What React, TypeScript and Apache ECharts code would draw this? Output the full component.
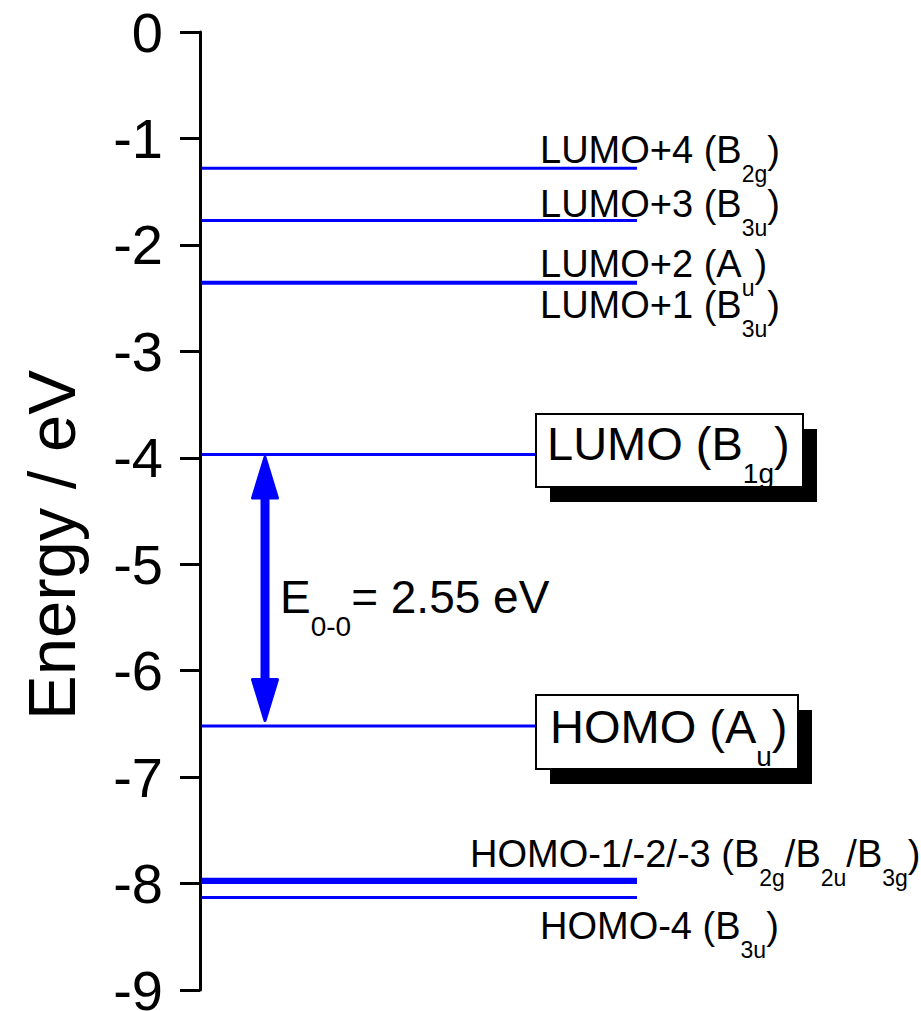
import React, { useEffect, useRef } from "react";
import * as echarts from "echarts";

// ---------- data ----------
const orbitalNames = ["LUMO+4", "LUMO+3", "LUMO+2", "LUMO+1", "LUMO", "HOMO", "HOMO-1", "HOMO-2", "HOMO-3", "HOMO-4"];
const orbitalSymmetries: [string, string][] = [
  ["B", "2g"], ["B", "3u"], ["A", "u"], ["B", "3u"], ["B", "1g"],
  ["A", "u"], ["B", "2g"], ["B", "2u"], ["B", "3g"], ["B", "3u"],
];
const orbitalEnergies = [-1.28, -1.77, -2.35, -2.36, -3.97, -6.52, -7.96, -7.98, -7.99, -8.13];
const yTicks = [0, -1, -2, -3, -4, -5, -6, -7, -8, -9];
const gapSymbol = "E";
const gapSubscript = "0-0";
const gapText = "= 2.55 eV";
const axisTitle = "Energy / eV";

// ---------- layout / style ----------
const FONT = "'Liberation Sans', Arial, Helvetica, sans-serif";
const BLUE = "#0000ff";
const LINE_END = 437; // px from axis
const BOX_LINE_END = 336;
const boxed = [4, 5];

const labelLayout = [
  { members: [0], x: 340, dy: -5 },
  { members: [1], x: 340, dy: -3.5 },
  { members: [2], x: 340, dy: -5 },
  { members: [3], x: 340, dy: 35 },
  { members: [6, 7, 8], x: 270, dy: -12 },
  { members: [9], x: 340, dy: 41.5 },
];
const boxLayout = [
  { member: 4, x: 336, w: 267, h: 73, dy: -40.6, tx: 11, tdy: 5.4 },
  { member: 5, x: 336, w: 262, h: 74, dy: -31, tx: 14, tdy: 17 },
];

function rich(F: number) {
  const f = Math.round(F * 0.6);
  return {
    n: { fontSize: F, lineHeight: F, fontFamily: FONT, fill: "#000", verticalAlign: "top" },
    s: {
      fontSize: f, lineHeight: f, fontFamily: FONT, fill: "#000", verticalAlign: "top",
      padding: [0.8465 * (F - f) + 0.5 * F, 0, 0, 0],
    },
  };
}

function labelText(members: number[]) {
  const name = members
    .map((m, k) => (k === 0 ? orbitalNames[m] : orbitalNames[m].replace(/^[A-Z]+/, "")))
    .join("/");
  const sym = members
    .map((m) => `{n|${orbitalSymmetries[m][0]}}{s|${orbitalSymmetries[m][1]}}`)
    .join("{n|/}");
  return `{n|${name} (}${sym}{n|)}`;
}

const SMALL_F = 38;
const BOX_F = 47;
const GAP_F = 46;

const option: any = {
  animation: false,
  backgroundColor: "#ffffff",
  grid: { left: 200, right: 0, top: 32, bottom: 21, containLabel: false, outerBoundsMode: "none" },
  xAxis: { type: "value", min: 0, max: 721, show: false },
  yAxis: {
    type: "value",
    min: Math.min(...yTicks),
    max: Math.max(...yTicks),
    interval: 1,
    axisLine: { show: true, lineStyle: { color: "#000", width: 3 } },
    axisTick: { show: true, inside: false, length: 20, lineStyle: { color: "#000", width: 3 } },
    axisLabel: {
      fontSize: 56, fontFamily: FONT, color: "#000", margin: 37, padding: [0, 0, 8, 0], lineHeight: 34,
    },
    splitLine: { show: false },
  },
  graphic: [
    {
      type: "text",
      x: 51,
      y: 545,
      rotation: Math.PI / 2,
      style: { text: axisTitle, fontSize: 67, fontFamily: FONT, fill: "#000", align: "center", verticalAlign: "middle" },
    },
  ],
  series: [
    // small labels
    {
      type: "custom",
      coordinateSystem: "cartesian2d",
      z: 1,
      data: labelLayout.map((l, i) => [i, orbitalEnergies[l.members[0]]]),
      renderItem: (params: any, api: any) => {
        const i = api.value(0);
        const l = labelLayout[i];
        const [x, y] = api.coord([l.x, api.value(1)]);
        return {
          type: "text",
          x,
          y: y + l.dy - 0.8465 * SMALL_F,
          style: { text: labelText(l.members), rich: rich(SMALL_F), align: "left", verticalAlign: "top" },
        };
      },
    },
    // level lines
    {
      type: "custom",
      coordinateSystem: "cartesian2d",
      z: 2,
      data: orbitalEnergies.map((e, i) => [i, e]),
      renderItem: (params: any, api: any) => {
        const i = api.value(0);
        const e = api.value(1);
        const [x0, y] = api.coord([0, e]);
        const [x1] = api.coord([boxed.includes(i) ? BOX_LINE_END : LINE_END, e]);
        return {
          type: "line",
          shape: { x1: x0 + 1.5, y1: y, x2: x1, y2: y },
          style: { stroke: BLUE, lineWidth: 3 },
        };
      },
    },
    // boxed labels
    {
      type: "custom",
      coordinateSystem: "cartesian2d",
      z: 3,
      data: boxLayout.map((b, i) => [i, orbitalEnergies[b.member]]),
      renderItem: (params: any, api: any) => {
        const b = boxLayout[api.value(0)];
        const [x, y] = api.coord([b.x, api.value(1)]);
        const top = y + b.dy;
        return {
          type: "group",
          children: [
            { type: "rect", shape: { x: x + 14, y: top + 15, width: b.w, height: b.h }, style: { fill: "#000" } },
            { type: "rect", shape: { x, y: top, width: b.w, height: b.h }, style: { fill: "#fff", stroke: "#000", lineWidth: 2 } },
            {
              type: "text",
              x: x + b.tx,
              y: y + b.tdy - 0.8465 * BOX_F,
              style: { text: labelText([b.member]), rich: rich(BOX_F), align: "left", verticalAlign: "top" },
            },
          ],
        };
      },
    },
    // gap arrow
    {
      type: "custom",
      coordinateSystem: "cartesian2d",
      z: 4,
      data: [[65, orbitalEnergies[4], orbitalEnergies[5]]],
      renderItem: (params: any, api: any) => {
        const [x, yL] = api.coord([api.value(0), api.value(1)]);
        const [, yH] = api.coord([api.value(0), api.value(2)]);
        const tTop = yL + 2.5;
        const tBot = yH - 5.5;
        const head = 41;
        const hw = 12.5;
        const mid = (yL + yH) / 2;
        return {
          type: "group",
          children: [
            { type: "line", shape: { x1: x, y1: tTop + head - 4, x2: x, y2: tBot - head + 4 }, style: { stroke: BLUE, lineWidth: 9 } },
            {
              type: "polygon",
              shape: { points: [[x, tTop], [x - hw, tTop + head], [x + hw, tTop + head]] },
              style: { fill: BLUE, stroke: BLUE, lineWidth: 3, lineJoin: "round" },
            },
            {
              type: "polygon",
              shape: { points: [[x, tBot], [x - hw, tBot - head], [x + hw, tBot - head]] },
              style: { fill: BLUE, stroke: BLUE, lineWidth: 3, lineJoin: "round" },
            },
            {
              type: "text",
              x: x + 15,
              y: mid + 22.7 - 0.8465 * GAP_F,
              style: {
                text: `{n|${gapSymbol}}{s|${gapSubscript}}{n|${gapText}}`,
                rich: rich(GAP_F),
                align: "left",
                verticalAlign: "top",
              },
            },
          ],
        };
      },
    },
  ],
};

export default function App() {
  const ref = useRef<HTMLDivElement>(null);
  useEffect(() => {
    document.body.style.margin = "0";
    const chart = echarts.init(ref.current!, null, { renderer: "svg" });
    chart.setOption(option);
    return () => chart.dispose();
  }, []);
  return <div ref={ref} style={{ width: 921, height: 1011 }} />;
}
